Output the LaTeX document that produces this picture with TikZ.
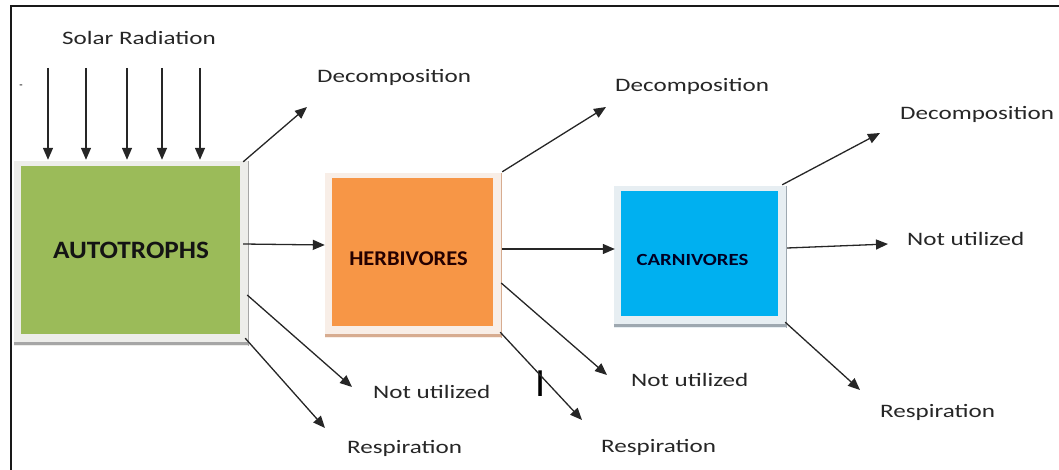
\documentclass[tikz,border=0pt]{standalone}
\usepackage{fontspec}
\setmainfont{Carlito}
\newfontfamily\LblFont{Carlito}[FakeStretch=1.32]
\newfontfamily\AutoFont{Carlito}[FakeStretch=1.09]
\newfontfamily\HerbFont{Carlito}[FakeStretch=1.07]
\newfontfamily\CarnFont{Carlito}[FakeStretch=1.22]
\usetikzlibrary{arrows.meta, backgrounds}
\definecolor{autogreen}{HTML}{9BBB59}
\definecolor{herborange}{HTML}{F79646}
\definecolor{carnblue}{HTML}{00B0F0}
\definecolor{autoframe}{HTML}{EDEDEA}
\definecolor{herbframe}{HTML}{F8EEE7}
\definecolor{carnframe}{HTML}{E7EEF2}
\definecolor{autoshade}{HTML}{A6A6A6}
\definecolor{herbshade}{HTML}{D7AC90}
\definecolor{carnshade}{HTML}{9EA8B0}
\newcommand{\Decomp}{Decomposition}
\newcommand{\NotUsed}{Not utilized}
\newcommand{\Resp}{Respiration}

\begin{document}
\begin{tikzpicture}[x=1pt,y=-1pt,
  box/.style={inner sep=0pt, minimum width=#1},
  lbl/.style={inner sep=0pt, anchor=base west, text=black!85,
    font=\LblFont\fontsize{19}{21}\selectfont},
  flow/.style={-{Triangle[length=12pt,width=10pt]}, line width=1.3pt, draw=black!85},
  ray/.style={flow, line width=1.4pt, shorten >=6pt}]
  \useasboundingbox (0,0) rectangle (1059,470);
  \draw[line width=2pt, black!90] (11,470) -- (11,6) -- (1059,6);

  % the three levels
  \node[box=219pt, minimum height=168pt, fill=autogreen]  (Auto) at (130.5,250) {};
  \node[box=161pt, minimum height=148pt, fill=herborange] (Herb) at (412.5,252) {};
  \node[box=157pt, minimum height=125pt, fill=carnblue]   (Carn) at (699.5,253.5) {};
  \node[text=black!92, font=\AutoFont\bfseries\fontsize{25}{25}\selectfont]
    (AutoTxt) at ([shift={(0.5,0)}]Auto.center) {AUTOTROPHS};
  \node[text=black!80!red!70!black, font=\HerbFont\bfseries\fontsize{21}{21}\selectfont]
    (HerbTxt) at ([shift={(-4,7)}]Herb.center) {HERBIVORES};
  \node[text=black!80!blue!70!black, font=\CarnFont\bfseries\fontsize{17}{17}\selectfont]
    (CarnTxt) at ([shift={(-7,6.5)}]Carn.center) {CARNIVORES};

  \begin{scope}[on background layer]
    \foreach \b/\c/\s in {Auto/autoframe/autoshade, Herb/herbframe/herbshade, Carn/carnframe/carnshade} {
      \fill[\c] ([shift={(-7,-5)}]\b.north west) rectangle ([shift={(8,12)}]\b.south east);
      \draw[\s, line width=0.8pt] ([shift={(8,-5)}]\b.north east) -- ([shift={(8,12)}]\b.south east);
      \draw[\s, line width=3pt] ([shift={(-7,9)}]\b.south west) -- ([shift={(8,9)}]\b.south east);
    }
  \end{scope}

  % sunlight
  \node[lbl] (Solar) at (62,45) {Solar Radiation};
  \node[inner sep=0pt, font=\fontsize{11}{11}\selectfont] (stray) at (21,87) {-};
  \foreach \x [count=\i] in {48,86,127,162,200} {
    \coordinate (sun\i) at (\x,68);
    \draw[ray] (sun\i) -- (\x,0 |- Auto.north);
  }

  % labels
  \node[lbl] (AutoDec)  at (317,83)  {\Decomp};
  \node[lbl] (AutoNot)  at (373,398) {\NotUsed};
  \node[lbl] (AutoResp) at (347,453) {\Resp};
  \node[lbl] (HerbDec)  at (615,92)  {\Decomp};
  \node[lbl] (HerbNot)  at (631,386) {\NotUsed};
  \node[lbl] (HerbResp) at (601,452) {\Resp};
  \node[lbl] (CarnDec)  at (900,120) {\Decomp};
  \node[lbl] (CarnNot)  at (907,245) {\NotUsed};
  \node[lbl] (CarnResp) at (880,417) {\Resp};
  \node[inner sep=0pt, text=black, font=\fontsize{40}{40}\selectfont] (cursor) at (541,383.5) {I};

  % energy flow
  \draw[flow] ([shift={(3,-6)}]Auto.east) -- ([shift={(-7,-7)}]Herb.west);
  \draw[flow] ([shift={(9,-3)}]Herb.east) -- ([shift={(-6,-4.5)}]Carn.west);

  \draw[flow] ([shift={(3,-4)}]Auto.north east) -- ([shift={(-10,24)}]AutoDec.base west);
  \draw[flow] ([shift={(7,45)}]Auto.east)       -- ([shift={(-21,-11)}]AutoNot.base west);
  \draw[flow] ([shift={(5,4)}]Auto.south east)  -- ([shift={(-22,-25)}]AutoResp.base west);

  \draw[flow] ([shift={(9,-6)}]Herb.north east) -- ([shift={(-9,15)}]HerbDec.base west);
  \draw[flow] ([shift={(8,31)}]Herb.east)       -- ([shift={(-24,-11)}]HerbNot.base west);
  \draw[flow] ([shift={(7,6)}]Herb.south east)  -- ([shift={(-19,-32)}]HerbResp.base west);

  \draw[flow] ([shift={(4,-6)}]Carn.north east) -- ([shift={(-20,13)}]CarnDec.base west);
  \draw[flow] ([shift={(9,-5.5)}]Carn.east)     -- ([shift={(-19,-1)}]CarnNot.base west);
  \draw[flow] ([shift={(7,6)}]Carn.south east)  -- ([shift={(-20,-27)}]CarnResp.base west);
\end{tikzpicture}
\end{document}
